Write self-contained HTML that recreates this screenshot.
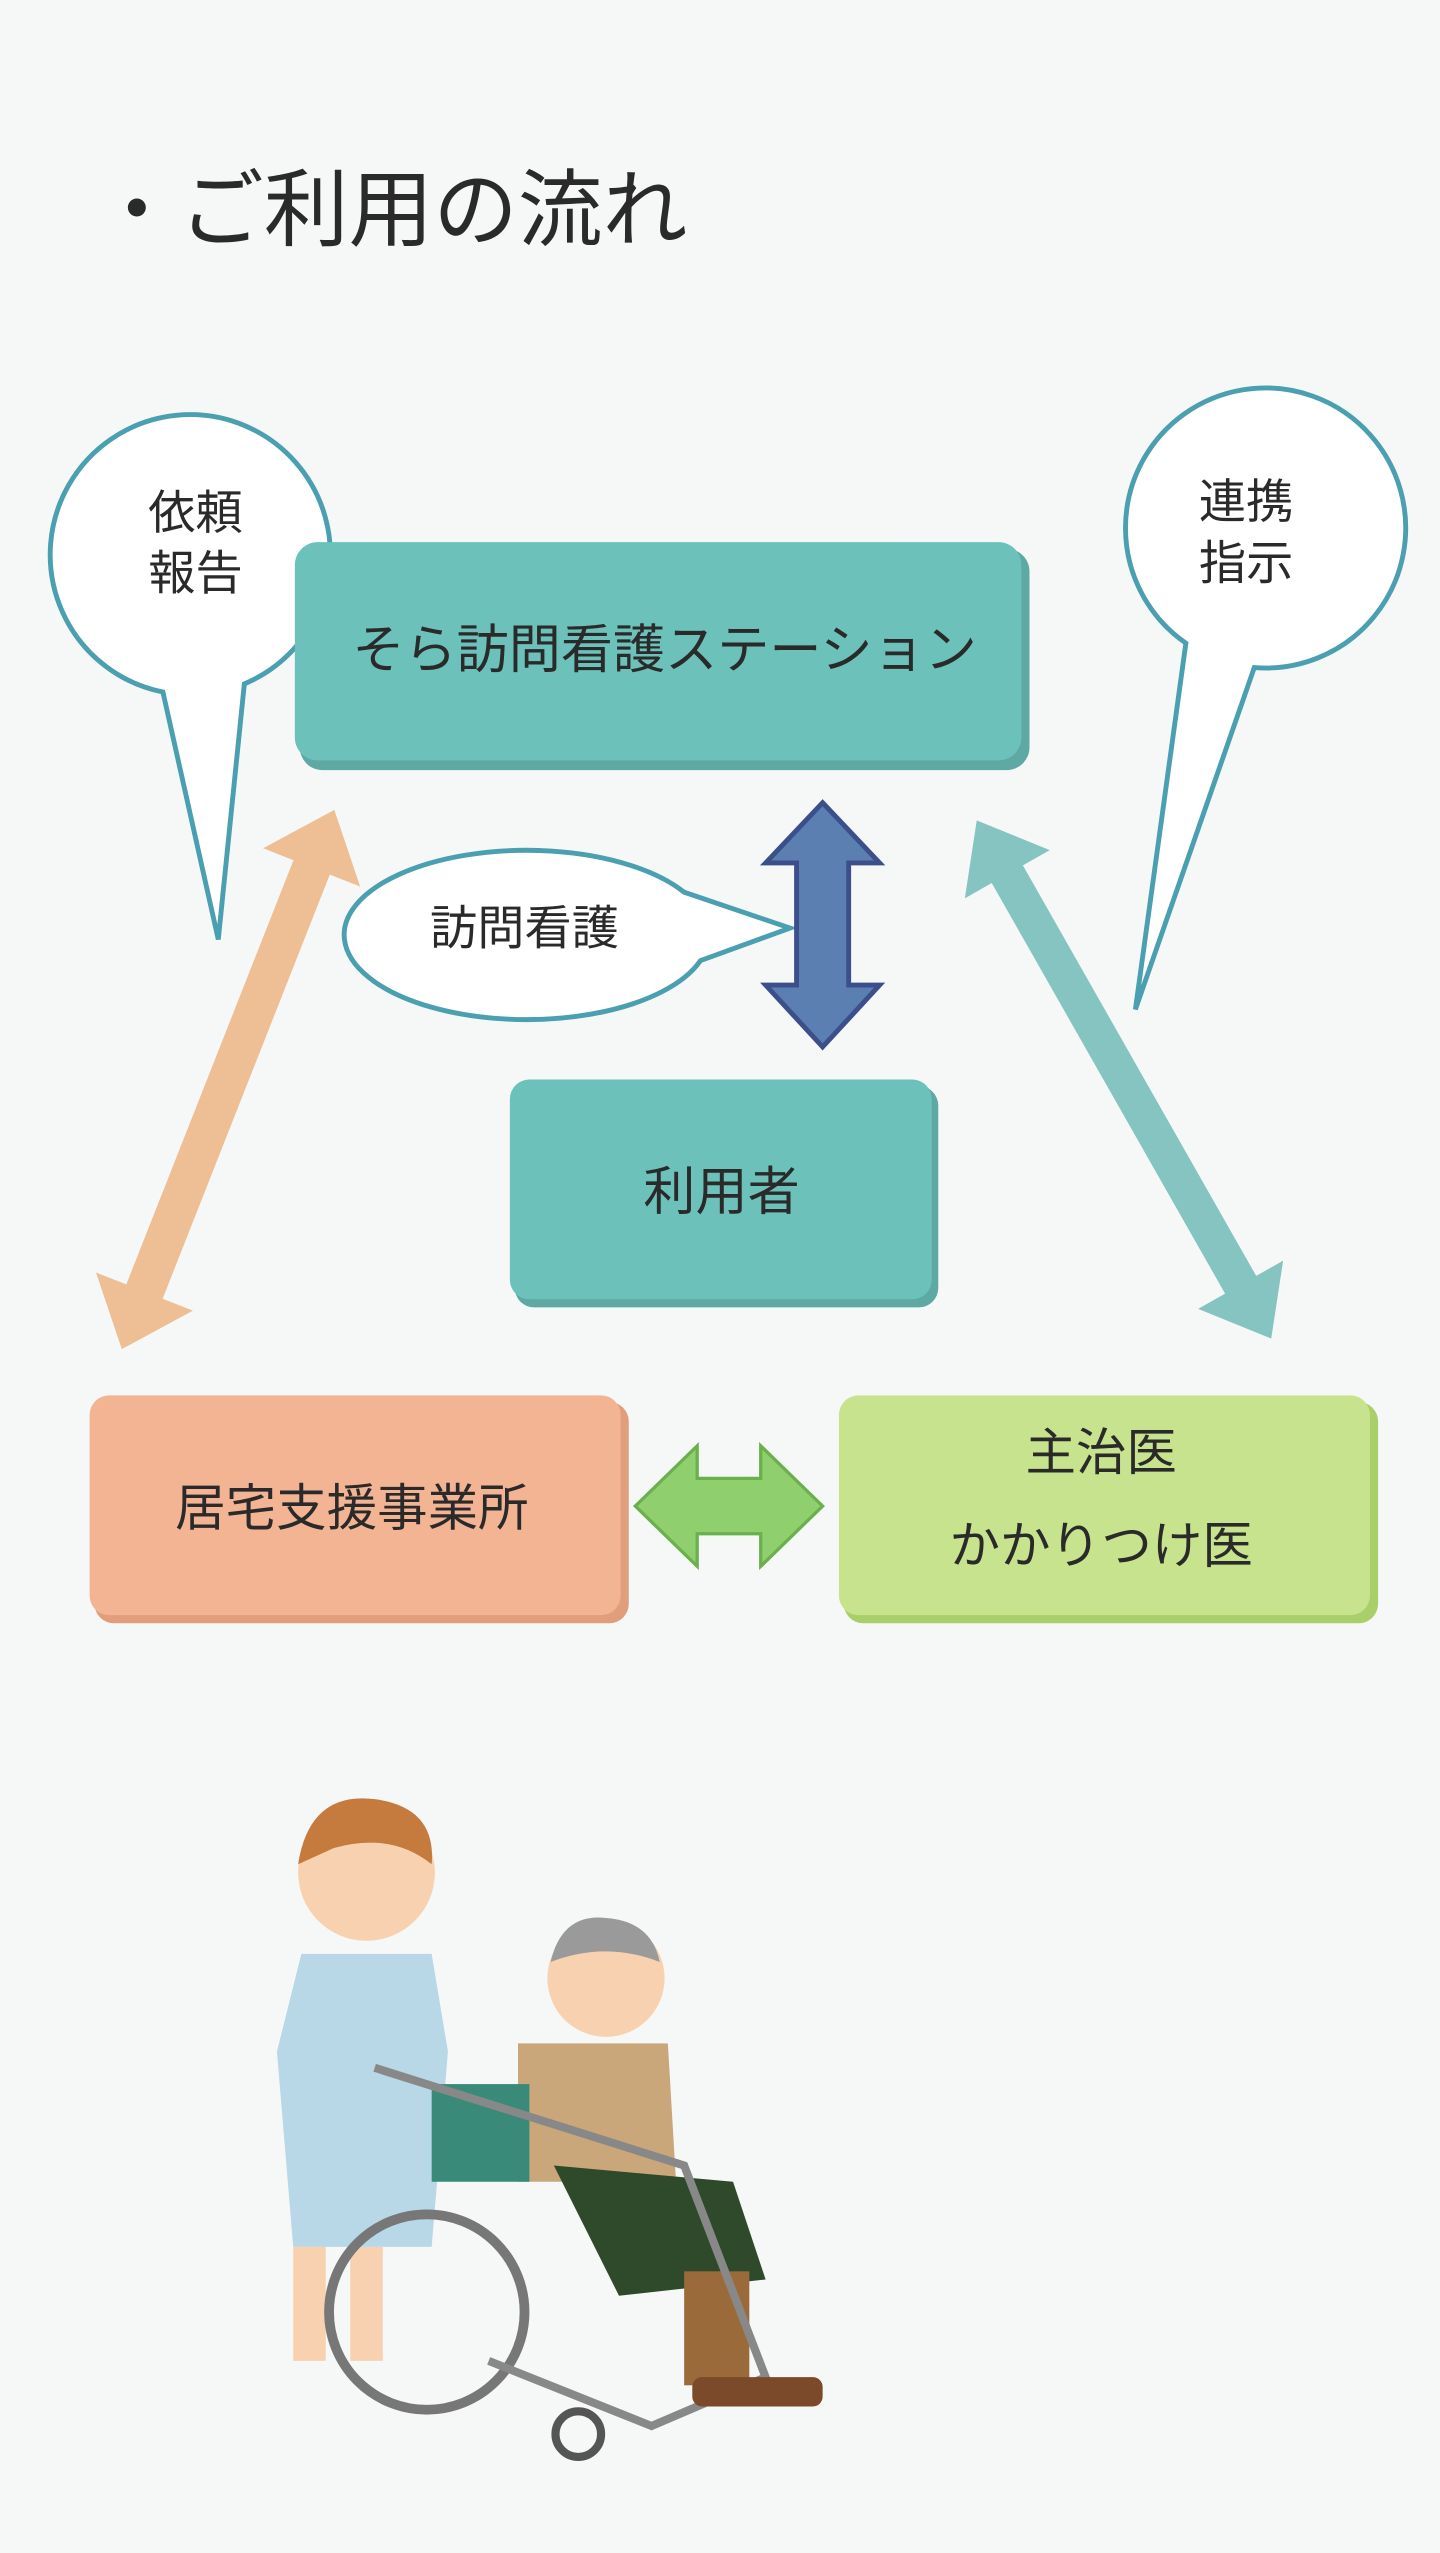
<!DOCTYPE html>
<html><head><meta charset="utf-8"><style>
html,body{margin:0;padding:0;background:#f6f8f8;}
svg{display:block;}
text{font-family:"Liberation Sans","Noto Sans CJK JP",sans-serif;fill:#2a2a2a;}
</style></head><body>
<svg width="1440" height="2553" viewBox="0 0 884 1568" preserveAspectRatio="none" xmlns="http://www.w3.org/2000/svg">
<rect width="884" height="1568" fill="#f6f8f8"/>
<text x="58" y="147" font-size="52">・ご利用の流れ</text>

<!-- left bubble -->
<path d="M100,425 A86,86 0 1 1 150,420 L134,577 Z" fill="#fff" stroke="#4a9fb0" stroke-width="3"/>
<text x="120" y="325" font-size="29" text-anchor="middle">依頼</text>
<text x="120" y="362" font-size="29" text-anchor="middle">報告</text>
<!-- right bubble -->
<path d="M728,395 A86,86 0 1 1 770,410 L697,620 Z" fill="#fff" stroke="#4a9fb0" stroke-width="3"/>
<text x="765" y="318" font-size="29" text-anchor="middle">連携</text>
<text x="765" y="356" font-size="29" text-anchor="middle">指示</text>

<!-- station -->
<rect x="184" y="337" width="448" height="136" rx="14" fill="#5fa9a4"/>
<rect x="181" y="333" width="446" height="134" rx="14" fill="#6cc1ba"/>
<text x="408" y="410" font-size="32" text-anchor="middle">そら訪問看護ステーション</text>

<!-- visit bubble -->
<path d="M420,548 A112,52 0 1 0 430,590 L485,570 Z" fill="#fff" stroke="#4a9fb0" stroke-width="3"/>
<text x="322" y="580" font-size="29" text-anchor="middle">訪問看護</text>

<!-- blue arrow -->
<polygon points="505,493 540,530 521,530 521,605 540,605 505,643 470,605 489,605 489,530 470,530" fill="#5a7fb0" stroke="#3d4f8a" stroke-width="3"/>

<!-- user -->
<rect x="316" y="667" width="260" height="136" rx="12" fill="#5fa9a4"/>
<rect x="313" y="663" width="259" height="135" rx="12" fill="#6cc1ba"/>
<text x="443" y="743" font-size="32" text-anchor="middle">利用者</text>

<!-- orange arrow -->
<g transform="translate(140,663) rotate(-68.5)">
<polygon points="-178,0 -140,-32 -140,-12 140,-12 140,-32 178,0 140,32 140,12 -140,12 -140,32" fill="#eebf95"/>
</g>
<!-- teal arrow -->
<g transform="translate(690,663) rotate(60.4)">
<polygon points="-183,0 -145,-30 -145,-11 145,-11 145,-30 183,0 145,30 145,11 -145,11 -145,30" fill="#86c4c2"/>
</g>

<!-- kyotaku -->
<rect x="58" y="861" width="328" height="136" rx="12" fill="#e19e7c"/>
<rect x="55" y="857" width="326" height="135" rx="12" fill="#f3b493"/>
<text x="216" y="937" font-size="31" text-anchor="middle">居宅支援事業所</text>

<!-- green arrow -->
<polygon points="390,925 428,888 428,908 467,908 467,888 505,925 467,962 467,942 428,942 428,962" fill="#8fcf6e" stroke="#6ab04c" stroke-width="2"/>

<!-- doctor -->
<rect x="518" y="861" width="328" height="136" rx="12" fill="#a9cf6a"/>
<rect x="515" y="857" width="326" height="135" rx="12" fill="#c8e38e"/>
<text x="676" y="903" font-size="31" text-anchor="middle">主治医</text>
<text x="676" y="960" font-size="31" text-anchor="middle">かかりつけ医</text>

<!-- illustration (simplified) -->
<circle cx="225" cy="1150" r="42" fill="#f8d2b0"/>
<path d="M183,1145 Q190,1100 230,1105 Q268,1110 265,1145 Q240,1125 205,1135 Z" fill="#c57a3e"/>
<path d="M185,1200 L265,1200 L275,1260 L265,1380 L180,1380 L170,1260 Z" fill="#b8d8e8"/>
<rect x="180" y="1380" width="20" height="70" fill="#f8d2b0"/>
<rect x="215" y="1380" width="20" height="70" fill="#f8d2b0"/>
<circle cx="372" cy="1215" r="36" fill="#f8d2b0"/>
<path d="M338,1205 Q345,1175 372,1178 Q400,1180 405,1205 Q372,1192 338,1205Z" fill="#9a9a9a"/>
<path d="M318,1255 L410,1255 L415,1340 L318,1340 Z" fill="#c9a77a"/>
<path d="M340,1330 L450,1340 L470,1400 L380,1410 Z" fill="#2f4a2a"/>
<rect x="420" y="1395" width="40" height="70" fill="#9a6a3a"/>
<rect x="265" y="1280" width="60" height="60" fill="#3a8a7a"/>
<circle cx="262" cy="1420" r="60" fill="none" stroke="#777" stroke-width="6"/>
<circle cx="355" cy="1495" r="14" fill="none" stroke="#555" stroke-width="5"/>
<path d="M230,1270 L420,1330 L470,1460 L400,1490 L300,1450" fill="none" stroke="#888" stroke-width="5"/>
<rect x="425" y="1460" width="80" height="18" rx="6" fill="#7a4a2a"/>
</svg>
</body></html>
